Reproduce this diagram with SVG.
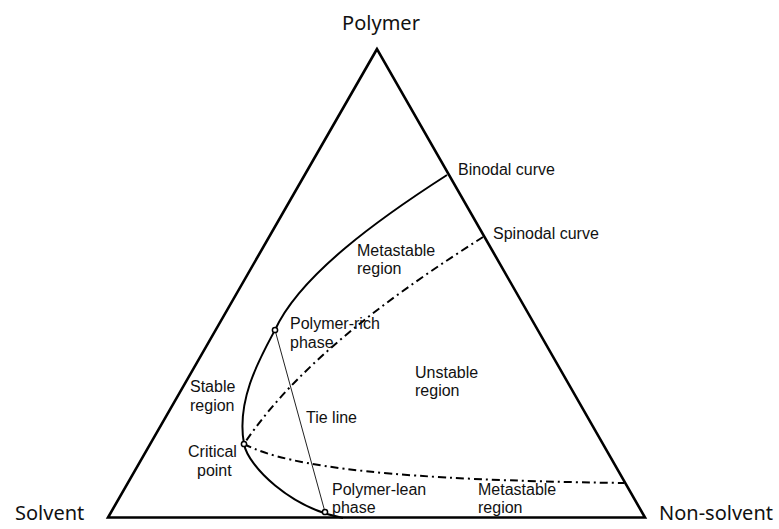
<svg xmlns="http://www.w3.org/2000/svg" width="779" height="529" viewBox="0 0 779 529">
<style>
.edge{fill:none;stroke:#000;stroke-width:2.6;stroke-linejoin:miter}
.bin{fill:none;stroke:#000;stroke-width:2}
.spin{fill:none;stroke:#000;stroke-width:2;stroke-dasharray:8 4 2 4}
.tie{fill:none;stroke:#222;stroke-width:1}
.pt{fill:#fff;stroke:#000;stroke-width:1.5}
.lbl{font-family:"Liberation Sans",Arial,sans-serif;font-size:16px;fill:#111}
.corner{font-family:"Noto Sans","Open Sans",sans-serif;font-size:20px;fill:#111}
</style>
<rect width="779" height="529" fill="#fff"/>
<g id="triangle">
<path class="edge" d="M377,49 L108,517.5 L645,517.5 Z"/>
</g>
<g id="connectors">
<path id="binodal" class="bin" d="M447,175 C380,218 300,275 275,330 C260,358 236,400 244,444 C248,466 290,508 343,518"/>
<path id="spinodal-upper" class="spin" d="M483,237 C400,290 300,360 244,444"/>
<path id="spinodal-lower" class="spin" d="M244,444 C290,468 400,480 624,483"/>
<path id="tie-line" class="tie" d="M275,330 L325,512"/>
</g>
<g id="points">
<circle class="pt" cx="275" cy="330" r="2.6"/>
<circle class="pt" cx="244" cy="444" r="2.6"/>
<circle class="pt" cx="325" cy="512" r="2.6"/>
</g>
<g id="vertex-polymer"><text class="corner" x="381" y="30" text-anchor="middle">Polymer</text></g>
<g id="vertex-solvent"><text class="corner" x="15" y="520">Solvent</text></g>
<g id="vertex-nonsolvent"><text class="corner" x="659" y="520">Non-solvent</text></g>
<g id="label-binodal"><text class="lbl" x="458" y="175">Binodal curve</text></g>
<g id="label-spinodal"><text class="lbl" x="493" y="239">Spinodal curve</text></g>
<g id="label-metastable-upper"><text class="lbl" x="357" y="256">Metastable</text><text class="lbl" x="357" y="274">region</text></g>
<g id="label-polymer-rich"><text class="lbl" x="290" y="329">Polymer-rich</text><text class="lbl" x="290" y="348">phase</text></g>
<g id="label-unstable"><text class="lbl" x="415" y="378">Unstable</text><text class="lbl" x="415" y="396">region</text></g>
<g id="label-stable"><text class="lbl" x="190" y="392">Stable</text><text class="lbl" x="190" y="411">region</text></g>
<g id="label-tie"><text class="lbl" x="306" y="423">Tie line</text></g>
<g id="label-critical"><text class="lbl" x="188" y="457">Critical</text><text class="lbl" x="197" y="476">point</text></g>
<g id="label-polymer-lean"><text class="lbl" x="332" y="495">Polymer-lean</text><text class="lbl" x="332" y="513">phase</text></g>
<g id="label-metastable-lower"><text class="lbl" x="478" y="495">Metastable</text><text class="lbl" x="478" y="513">region</text></g>
</svg>
